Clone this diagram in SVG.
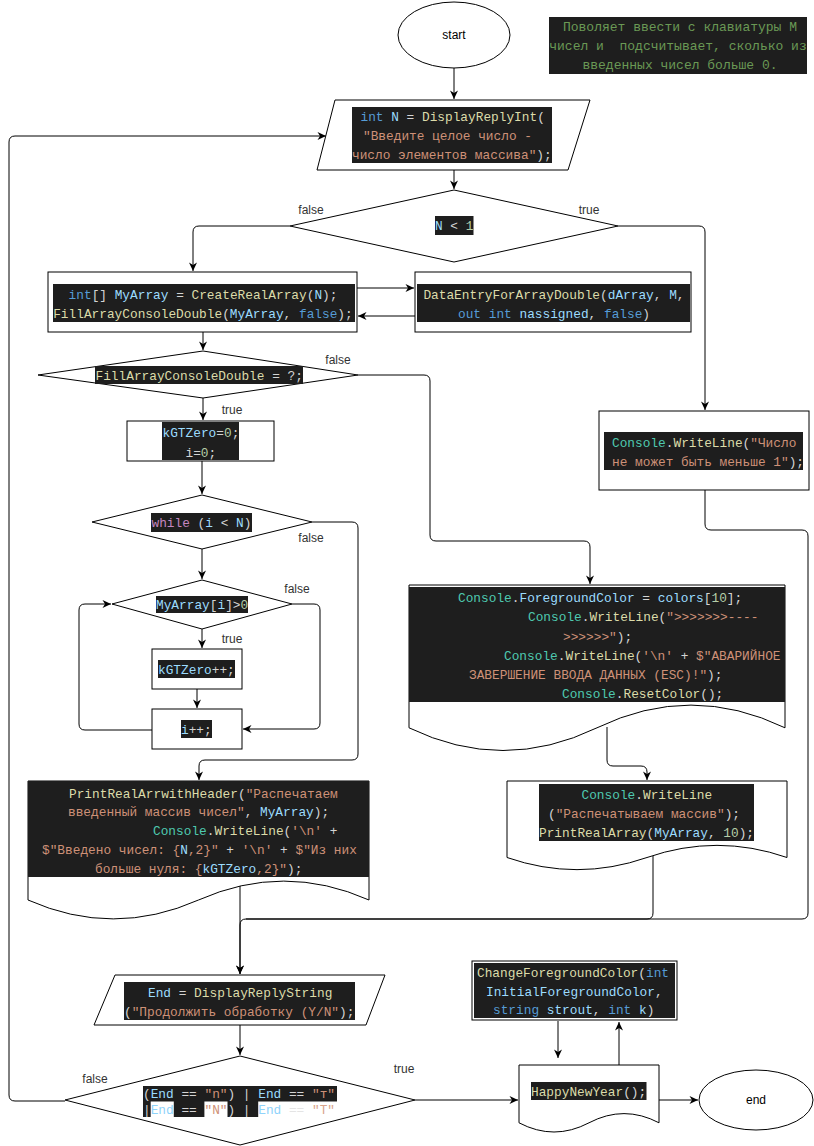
<svg xmlns="http://www.w3.org/2000/svg" width="814" height="1146" viewBox="0 0 814 1146">
<defs>
<style>
.sh{fill:#fff;stroke:#000;stroke-width:1}
.cn{fill:none;stroke:#000;stroke-width:1}
.bg{fill:#1e1e1e}
.code{font-family:"Liberation Mono","DejaVu Sans Mono",monospace;font-size:12.8px;fill:#d4d4d4}
.lbl{font-family:"Liberation Sans",Arial,sans-serif;font-size:12px;fill:#333;text-anchor:middle}
.term{font-family:"Liberation Sans",Arial,sans-serif;font-size:12px;fill:#000;text-anchor:middle}
.k{fill:#569cd6}.v{fill:#9cdcfe}.f{fill:#dcdcaa}.s{fill:#ce9178}.c{fill:#4ec9b0}.n{fill:#b5cea8}.w{fill:#c586c0}.p{fill:#d4d4d4}.cm{fill:#6a9955}
</style>
<marker id="arr" markerWidth="10" markerHeight="10" refX="9" refY="5" orient="auto" markerUnits="userSpaceOnUse"><path d="M0.5,1 L9,5 L0.5,9 L3,5 Z" fill="#000"/></marker>
</defs>
<rect width="814" height="1146" fill="#fff"/>

<g id="connectors">
<path class="cn" d="M454,68 V99" marker-end="url(#arr)"/>
<path class="cn" d="M454,170 V189" marker-end="url(#arr)"/>
<path class="cn" d="M290,226 H199 Q193,226 193,232 V271" marker-end="url(#arr)"/>
<path class="cn" d="M618,226 H699 Q705,226 705,232 V410" marker-end="url(#arr)"/>
<path class="cn" d="M357,288 H414" marker-end="url(#arr)"/>
<path class="cn" d="M415,316 H358" marker-end="url(#arr)"/>
<path class="cn" d="M203,332 V350" marker-end="url(#arr)"/>
<path class="cn" d="M358,375 H424 Q430,375 430,381 V535 Q430,541 436,541 H584 Q590,541 590,547 V584" marker-end="url(#arr)"/>
<path class="cn" d="M203,398 V420" marker-end="url(#arr)"/>
<path class="cn" d="M202,461 V494" marker-end="url(#arr)"/>
<path class="cn" d="M312,522 H352 Q358,522 358,528 V754 Q358,760 352,760 H205 Q199,760 199,766 V780" marker-end="url(#arr)"/>
<path class="cn" d="M202,549 V579" marker-end="url(#arr)"/>
<path class="cn" d="M292,604 H314 Q320,604 320,610 V723 Q320,729 314,729 H243" marker-end="url(#arr)"/>
<path class="cn" d="M202,629 V648" marker-end="url(#arr)"/>
<path class="cn" d="M197,689 V708" marker-end="url(#arr)"/>
<path class="cn" d="M152,730 H85 Q79,730 79,724 V610 Q79,604 85,604 H111" marker-end="url(#arr)"/>
<path class="cn" d="M705,490 V524 Q705,530 711,530 H802 Q808,530 808,536 V913 Q808,919 802,919 H246 Q240,919 240,925 V974" marker-end="url(#arr)"/>
<path class="cn" d="M653,856 V913 Q653,919 647,919 H246"/>
<path class="cn" d="M240,886 V974" marker-end="url(#arr)"/>
<path class="cn" d="M607,727 V760 Q607,766 613,766 H641 Q647,766 647,772 V780" marker-end="url(#arr)"/>
<path class="cn" d="M240,1025 V1055" marker-end="url(#arr)"/>
<path class="cn" d="M65,1101 H15 Q9,1101 9,1095 V142 Q9,136 15,136 H326" marker-end="url(#arr)"/>
<path class="cn" d="M415,1100 H518" marker-end="url(#arr)"/>
<path class="cn" d="M558,1021 V1058" marker-end="url(#arr)"/>
<path class="cn" d="M619,1065 V1022" marker-end="url(#arr)"/>
<path class="cn" d="M659,1100 H698" marker-end="url(#arr)"/>
<text class="lbl" x="311" y="214">false</text>
<text class="lbl" x="589" y="214">true</text>
<text class="lbl" x="338" y="364">false</text>
<text class="lbl" x="232" y="414">true</text>
<text class="lbl" x="311" y="542">false</text>
<text class="lbl" x="297" y="593">false</text>
<text class="lbl" x="232" y="643">true</text>
<text class="lbl" x="95" y="1083">false</text>
<text class="lbl" x="404" y="1073">true</text>
</g>

<g id="start">
<ellipse class="sh" cx="454" cy="35" rx="56" ry="33"/>
<text class="term" x="454" y="39">start</text>
</g>

<g id="comment">
<rect class="bg" x="549" y="17" width="258" height="57"/>
<text class="code cm" xml:space="preserve" style="font-size:13px;text-anchor:middle" x="680" y="30.5">Поволяет ввести с клавиатуры М</text>
<text class="code cm" xml:space="preserve" style="font-size:13px;text-anchor:middle" x="678" y="49.5">чисел и  подсчитывает, сколько из</text>
<text class="code cm" xml:space="preserve" style="font-size:13px;text-anchor:middle" x="680" y="68.5">введенных чисел больше 0.</text>
</g>

<g id="inputN">
<polygon class="sh" points="335,100 590,100 568,170 317,170"/>
<rect class="bg" x="352" y="107" width="200" height="56"/>
<text class="code" xml:space="preserve" x="360.5" y="120.5"><tspan class="k">int</tspan> <tspan class="v">N</tspan> = <tspan class="f">DisplayReplyInt</tspan>(</text>
<text class="code s" xml:space="preserve" x="363" y="139.5">"Введите целое число -</text>
<text class="code" xml:space="preserve" x="352" y="158.5"><tspan class="s">число элементов массива"</tspan>);</text>
</g>

<g id="checkN">
<polygon class="sh" points="454,190 618,226 454,262 290,226"/>
<rect class="bg" x="435" y="216" width="38.5" height="19"/>
<text class="code" xml:space="preserve" x="435" y="229.5"><tspan class="v">N</tspan> &lt; <tspan class="n">1</tspan></text>
</g>

<g id="createArray">
<rect class="sh" x="48" y="272" width="309" height="60"/>
<rect class="bg" x="53" y="284" width="302" height="38"/>
<text class="code" xml:space="preserve" x="68.6" y="298.5"><tspan class="k">int</tspan>[] <tspan class="v">MyArray</tspan> = <tspan class="f">CreateRealArray</tspan>(<tspan class="v">N</tspan>);</text>
<text class="code" xml:space="preserve" x="53.2" y="317.5"><tspan class="f">FillArrayConsoleDouble</tspan>(<tspan class="v">MyArray</tspan>, <tspan class="k">false</tspan>);</text>
</g>

<g id="dataEntry">
<rect class="sh" x="415" y="272" width="276" height="60"/>
<rect class="bg" x="417" y="284" width="273" height="38"/>
<text class="code" xml:space="preserve" x="423.4" y="298.5"><tspan class="f">DataEntryForArrayDouble</tspan>(<tspan class="v">dArray</tspan>, <tspan class="v">M</tspan>,</text>
<text class="code" xml:space="preserve" x="458" y="317.5"><tspan class="k">out</tspan> <tspan class="k">int</tspan> <tspan class="v">nassigned</tspan>, <tspan class="k">false</tspan>)</text>
</g>

<g id="checkFill">
<polygon class="sh" points="203,351 358,375 203,398 38,375"/>
<rect class="bg" x="95" y="366" width="208" height="18"/>
<text class="code" xml:space="preserve" x="95.5" y="379.5"><tspan class="f">FillArrayConsoleDouble</tspan> = ?;</text>
</g>

<g id="init">
<rect class="sh" x="127" y="421" width="147" height="40"/>
<rect class="bg" x="162" y="422" width="77" height="38"/>
<text class="code" xml:space="preserve" x="162.5" y="436.5"><tspan class="v">kGTZero</tspan>=<tspan class="n">0</tspan>;</text>
<text class="code" xml:space="preserve" x="185.5" y="456.5">i=<tspan class="n">0</tspan>;</text>
</g>

<g id="whileLoop">
<polygon class="sh" points="202,495 312,522 202,549 92,522"/>
<rect class="bg" x="151" y="513" width="101" height="19"/>
<text class="code" xml:space="preserve" x="151.5" y="527"><tspan class="w">while</tspan> (<tspan class="v">i</tspan> &lt; <tspan class="v">N</tspan>)</text>
</g>

<g id="checkPositive">
<polygon class="sh" points="202,580 292,604 202,629 112,604"/>
<rect class="bg" x="156" y="596" width="92" height="17"/>
<text class="code" xml:space="preserve" x="156" y="609"><tspan class="v">MyArray</tspan>[<tspan class="v">i</tspan>]&gt;<tspan class="n">0</tspan></text>
</g>

<g id="incCount">
<rect class="sh" x="152" y="649" width="90" height="40"/>
<rect class="bg" x="158" y="660" width="77" height="18"/>
<text class="code" xml:space="preserve" x="158" y="673.5"><tspan class="v">kGTZero</tspan>++;</text>
</g>

<g id="incI">
<rect class="sh" x="152" y="709" width="90" height="40"/>
<rect class="bg" x="181" y="720" width="31" height="18"/>
<text class="code" xml:space="preserve" x="181" y="734"><tspan class="v">i</tspan>++;</text>
</g>

<g id="printResult">
<path class="sh" d="M28,781 H369 V900 Q283.75,862.2 198.5,900 Q113.25,937.8 28,900 Z"/>
<rect class="bg" x="28" y="781" width="341" height="96"/>
<text class="code" xml:space="preserve" x="69" y="797.5"><tspan class="f">PrintRealArrwithHeader</tspan>(<tspan class="s">"Распечатаем</tspan></text>
<text class="code" xml:space="preserve" x="68" y="816.3"><tspan class="s">введенный массив чисел"</tspan>, <tspan class="v">MyArray</tspan>);</text>
<text class="code" xml:space="preserve" x="153" y="835"><tspan class="c">Console</tspan>.<tspan class="f">WriteLine</tspan>(<tspan class="s">'\n'</tspan> +</text>
<text class="code" xml:space="preserve" x="42" y="853.8"><tspan class="s">$"Введено чисел: {</tspan><tspan class="v">N</tspan><tspan class="s">,2}"</tspan> + <tspan class="s">'\n'</tspan> + <tspan class="s">$"Из них</tspan></text>
<text class="code" xml:space="preserve" x="95" y="872.5"><tspan class="s">больше нуля: {</tspan><tspan class="v">kGTZero</tspan><tspan class="s">,2}"</tspan>);</text>
</g>

<g id="escMessage">
<path class="sh" d="M409,585 H785 V727.8 Q691,682.4 597,727.8 Q503,773.2 409,727.8 Z"/>
<rect class="bg" x="409" y="587" width="376" height="115"/>
<text class="code" xml:space="preserve" x="458" y="601.5"><tspan class="c">Console</tspan>.<tspan class="v">ForegroundColor</tspan> = <tspan class="v">colors</tspan>[<tspan class="n">10</tspan>];</text>
<text class="code" xml:space="preserve" x="528" y="621"><tspan class="c">Console</tspan>.<tspan class="f">WriteLine</tspan>(<tspan class="s">"&gt;&gt;&gt;&gt;&gt;&gt;&gt;----</tspan></text>
<text class="code" xml:space="preserve" x="563" y="640.5"><tspan class="s">&gt;&gt;&gt;&gt;&gt;&gt;"</tspan>);</text>
<text class="code" xml:space="preserve" x="504" y="659.5"><tspan class="c">Console</tspan>.<tspan class="f">WriteLine</tspan>(<tspan class="s">'\n'</tspan> + <tspan class="s">$"АВАРИЙНОЕ</tspan></text>
<text class="code" xml:space="preserve" x="469" y="678.5"><tspan class="s">ЗАВЕРШЕНИЕ ВВОДА ДАННЫХ (ESC)!"</tspan>);</text>
<text class="code" xml:space="preserve" x="562" y="697.5"><tspan class="c">Console</tspan>.<tspan class="f">ResetColor</tspan>();</text>
</g>

<g id="printArray">
<path class="sh" d="M507,781 H787 V857.5 Q717,833.2 647,857.5 Q577,881.8 507,857.5 Z"/>
<rect class="bg" x="539" y="784" width="215" height="57"/>
<text class="code" xml:space="preserve" x="581.5" y="798.5"><tspan class="c">Console</tspan>.<tspan class="f">WriteLine</tspan></text>
<text class="code" xml:space="preserve" x="548" y="817.5">(<tspan class="s">"Распечатываем массив"</tspan>);</text>
<text class="code" xml:space="preserve" x="539" y="836.5"><tspan class="f">PrintRealArray</tspan>(<tspan class="v">MyArray</tspan>, <tspan class="n">10</tspan>);</text>
</g>

<g id="errorLess1">
<rect class="sh" x="599" y="411" width="210" height="79"/>
<rect class="bg" x="604" y="432" width="199" height="38"/>
<text class="code" xml:space="preserve" x="612" y="446.5"><tspan class="c">Console</tspan>.<tspan class="f">WriteLine</tspan>(<tspan class="s">"Число</tspan></text>
<text class="code" xml:space="preserve" x="612" y="465.5"><tspan class="s">не может быть меньше 1"</tspan>);</text>
</g>

<g id="inputEnd">
<polygon class="sh" points="115,975 385,975 366,1025 94,1025"/>
<rect class="bg" x="124" y="982" width="231" height="38"/>
<text class="code" xml:space="preserve" x="148" y="996.5"><tspan class="v">End</tspan> = <tspan class="f">DisplayReplyString</tspan></text>
<text class="code" xml:space="preserve" x="124" y="1015.5">(<tspan class="s">"Продолжить обработку (Y/N"</tspan>);</text>
</g>

<g id="checkEnd">
<polygon class="sh" points="240,1056 415,1100 240,1145 65,1100"/>
<rect class="bg" x="143" y="1086" width="194" height="31"/>
<rect fill="#fff" x="150.7" y="1101.5" width="23.1" height="15.5"/>
<rect fill="#fff" x="204.4" y="1101.5" width="23.1" height="15.5"/>
<rect fill="#fff" x="258.2" y="1101.5" width="78.8" height="15.5"/>
<text class="code" xml:space="preserve" x="143" y="1097.5">(<tspan class="v">End</tspan> == <tspan class="s">"n"</tspan>) | <tspan class="v">End</tspan> == <tspan class="s">"т"</tspan></text>
<text class="code" xml:space="preserve" x="143" y="1113.5">|<tspan fill="#8fd3fb">End</tspan> == <tspan class="s">"N"</tspan>) | <tspan fill="#8fd3fb">End</tspan><tspan fill="#e4e4e4"> == </tspan><tspan fill="#d9a48c">"T"</tspan></text>
</g>

<g id="changeColor">
<rect class="sh" x="472" y="961" width="205" height="59"/>
<rect class="bg" x="474" y="963" width="201" height="55"/>
<text class="code" xml:space="preserve" x="477" y="976.5"><tspan class="f">ChangeForegroundColor</tspan>(<tspan class="k">int</tspan></text>
<text class="code" xml:space="preserve" x="486" y="995.5"><tspan class="v">InitialForegroundColor</tspan>,</text>
<text class="code" xml:space="preserve" x="493" y="1013.5"><tspan class="k">string</tspan> <tspan class="v">strout</tspan>, <tspan class="k">int</tspan> <tspan class="v">k</tspan>)</text>
</g>

<g id="happyNewYear">
<path class="sh" d="M519,1065 H659 V1122.8 Q624,1104.4 589,1122.8 Q554,1141.2 519,1122.8 Z"/>
<rect class="bg" x="531" y="1082" width="115.5" height="18"/>
<text class="code" xml:space="preserve" x="531" y="1095.5"><tspan class="f">HappyNewYear</tspan>();</text>
</g>

<g id="end">
<ellipse class="sh" cx="756" cy="1100" rx="57" ry="30"/>
<text class="term" x="756" y="1104">end</text>
</g>
</svg>
